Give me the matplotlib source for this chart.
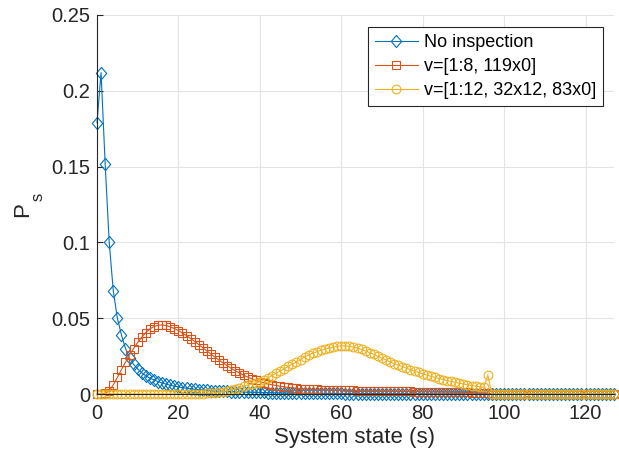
import matplotlib
matplotlib.use("Agg")
import matplotlib.pyplot as plt
import numpy as np

states = list(range(128))

no_inspection = [
    0.179, 0.212, 0.152, 0.100, 0.068, 0.050, 0.039, 0.030, 0.0235, 0.0195,
    0.0165, 0.014, 0.012, 0.0105, 0.0093, 0.0082, 0.0073, 0.0065, 0.0058, 0.0052,
    0.0047, 0.0042, 0.0038, 0.0034, 0.0031, 0.0028, 0.0026, 0.0024, 0.0022, 0.0020,
    0.0019, 0.0018, 0.0017, 0.0016, 0.0015, 0.0014, 0.0013, 0.0012, 0.0012, 0.0011,
    0.0010, 0.0010, 0.0009, 0.0009, 0.0008, 0.0008, 0.0007, 0.0007, 0.0006, 0.0006,
    0.0006, 0.0005, 0.0005, 0.0005, 0.0005, 0.0005, 0.0004, 0.0004, 0.0004, 0.0004,
    0.0004, 0.0003, 0.0003, 0.0003, 0.0003, 0.0003, 0.0003, 0.0003, 0.0003, 0.0003,
    0.0003, 0.0002, 0.0002, 0.0002, 0.0002, 0.0002, 0.0002, 0.0002, 0.0002, 0.0002,
    0.0002, 0.0001, 0.0001, 0.0001, 0.0001, 0.0001, 0.0001, 0.0001, 0.0001, 0.0001,
    0.0001, 0.0001, 0.0001, 0.0001, 0.0001, 0.0001, 0.0001, 0.0001, 0.0001, 0.0001,
    0.0001, 0.0, 0.0, 0.0, 0.0, 0.0, 0.0, 0.0, 0.0, 0.0,
    0.0, 0.0, 0.0, 0.0, 0.0, 0.0, 0.0, 0.0, 0.0, 0.0,
    0.0, 0.0, 0.0, 0.0, 0.0, 0.0, 0.0, 0.0,
]

policy_8 = [
    0.0, 0.0, 0.0005, 0.002, 0.006, 0.011, 0.016, 0.021, 0.026, 0.030,
    0.034, 0.0375, 0.0405, 0.043, 0.0445, 0.0453, 0.0456, 0.0452, 0.0443, 0.0432,
    0.0418, 0.0402, 0.0385, 0.0366, 0.0346, 0.0326, 0.0305, 0.0284, 0.0263, 0.0243,
    0.0223, 0.0204, 0.0186, 0.0169, 0.0153, 0.0138, 0.0124, 0.0112, 0.0101, 0.0091,
    0.0082, 0.0074, 0.0067, 0.0061, 0.0056, 0.0051, 0.0047, 0.0044, 0.0041, 0.0038,
    0.0036, 0.0034, 0.0032, 0.0031, 0.0030, 0.0029, 0.0028, 0.0027, 0.0026, 0.0026,
    0.0025, 0.0025, 0.0024, 0.0024, 0.0023, 0.0023, 0.0022, 0.0022, 0.0021, 0.0021,
    0.0020, 0.0020, 0.0019, 0.0019, 0.0018, 0.0018, 0.0017, 0.0017, 0.0016, 0.0016,
    0.0015, 0.0015, 0.0014, 0.0014, 0.0013, 0.0013, 0.0012, 0.0012, 0.0011, 0.0011,
    0.0010, 0.0010, 0.0009, 0.0009, 0.0008, 0.0008, 0.0007, 0.0, 0.0, 0.0,
    0.0, 0.0, 0.0, 0.0, 0.0, 0.0, 0.0, 0.0, 0.0, 0.0,
    0.0, 0.0, 0.0, 0.0, 0.0, 0.0, 0.0, 0.0, 0.0, 0.0,
    0.0, 0.0, 0.0, 0.0, 0.0, 0.0, 0.0, 0.0,
]

policy_12 = [
    0.0, 0.0, 0.0, 0.0, 0.0, 0.0, 0.0, 0.0, 0.0, 0.0,
    0.0, 0.0, 0.0, 0.0, 0.0, 0.0, 0.0, 0.0, 0.0, 0.0,
    0.0, 0.0, 0.0, 0.0, 0.0, 0.0002, 0.0003, 0.0005, 0.0007, 0.0009,
    0.0012, 0.0016, 0.0021, 0.0027, 0.0034, 0.0042, 0.0051, 0.0059, 0.0066, 0.0073,
    0.0080, 0.0093, 0.0107, 0.0122, 0.0137, 0.0152, 0.0167, 0.0182, 0.0197, 0.0211,
    0.0225, 0.0245, 0.0258, 0.0269, 0.0279, 0.0288, 0.0296, 0.0303, 0.0309, 0.0314,
    0.0318, 0.0317, 0.0314, 0.0309, 0.0302, 0.0294, 0.0284, 0.0273, 0.0261, 0.0248,
    0.0236, 0.0224, 0.0212, 0.0201, 0.0190, 0.0180, 0.0170, 0.0160, 0.0151, 0.0142,
    0.0133, 0.0125, 0.0117, 0.0109, 0.0102, 0.0095, 0.0089, 0.0083, 0.0077, 0.0071,
    0.0066, 0.0061, 0.0056, 0.0052, 0.0048, 0.0044, 0.0125, 0.0, 0.0, 0.0,
    0.0, 0.0, 0.0, 0.0, 0.0, 0.0, 0.0, 0.0, 0.0, 0.0,
    0.0, 0.0, 0.0, 0.0, 0.0, 0.0, 0.0, 0.0, 0.0, 0.0,
    0.0, 0.0, 0.0, 0.0, 0.0, 0.0, 0.0, 0.0,
]

labels = ["No inspection", "v=[1:8, 119x0]", "v=[1:12, 32x12, 83x0]"]
colors = ["#0072BD", "#D95319", "#EDB120"]
diamond = [(0, 1), (0.85, 0), (0, -1), (-0.85, 0), (0, 1)]
markers = [diamond, "s", "o"]
msizes = [8.8, 6.0, 6.3]

plt.rcParams['font.family'] = ['Liberation Sans', 'DejaVu Sans']

W, H = 619, 457
fig = plt.figure(figsize=(W/100, H/100), dpi=100)
ax = fig.add_axes([97/W, (H-394)/H, (614-97)/W, (394-15)/H])

for y, lab, c, m, ms in zip([no_inspection, policy_8, policy_12], labels, colors, markers, msizes):
    ax.plot(states, y, color=c, marker=m, markersize=ms, markerfacecolor='none',
            markeredgewidth=0.8, linewidth=0.8, label=lab, clip_on=False)

ax.set_xlim(0, 127)
ax.set_ylim(0, 0.25)
ax.set_xticks([0, 20, 40, 60, 80, 100, 120])
ax.set_yticks([0, 0.05, 0.1, 0.15, 0.2, 0.25])
ax.set_yticklabels(["0", "0.05", "0.1", "0.15", "0.2", "0.25"])
ax.grid(True, color='#e3e3e3', linewidth=0.8)
ax.set_axisbelow(True)
for s in ['top', 'right']:
    ax.spines[s].set_visible(False)
for s in ['left', 'bottom']:
    ax.spines[s].set_color('#262626')
    ax.spines[s].set_linewidth(0.8)
ax.tick_params(direction='in', length=4, width=0.8, labelsize=14.5, colors='#262626')
ax.tick_params(axis='x', pad=7)
ax.tick_params(axis='y', pad=5)

fig.text(355/W, 1 - 438/H, "System state (s)", fontsize=16, color='#262626',
         ha='center', va='center')
fig.text(23/W, 1 - 210/H, "P", fontsize=16, color='#262626',
         ha='center', va='center', rotation=90)
fig.text(38/W, 1 - 197/H, "s", fontsize=12, color='#262626',
         ha='center', va='center', rotation=90)

leg = ax.legend(loc='upper right', fontsize=13,
                frameon=True, fancybox=False, edgecolor='#262626', framealpha=1,
                handlelength=2.4, borderpad=0.4, labelspacing=0.38, handletextpad=0.3,
                borderaxespad=0.0)
leg.get_frame().set_linewidth(0.8)
leg.set_bbox_to_anchor((603/W, 1 - 27/H), transform=fig.transFigure)

fig.savefig("out.png", dpi=100)
